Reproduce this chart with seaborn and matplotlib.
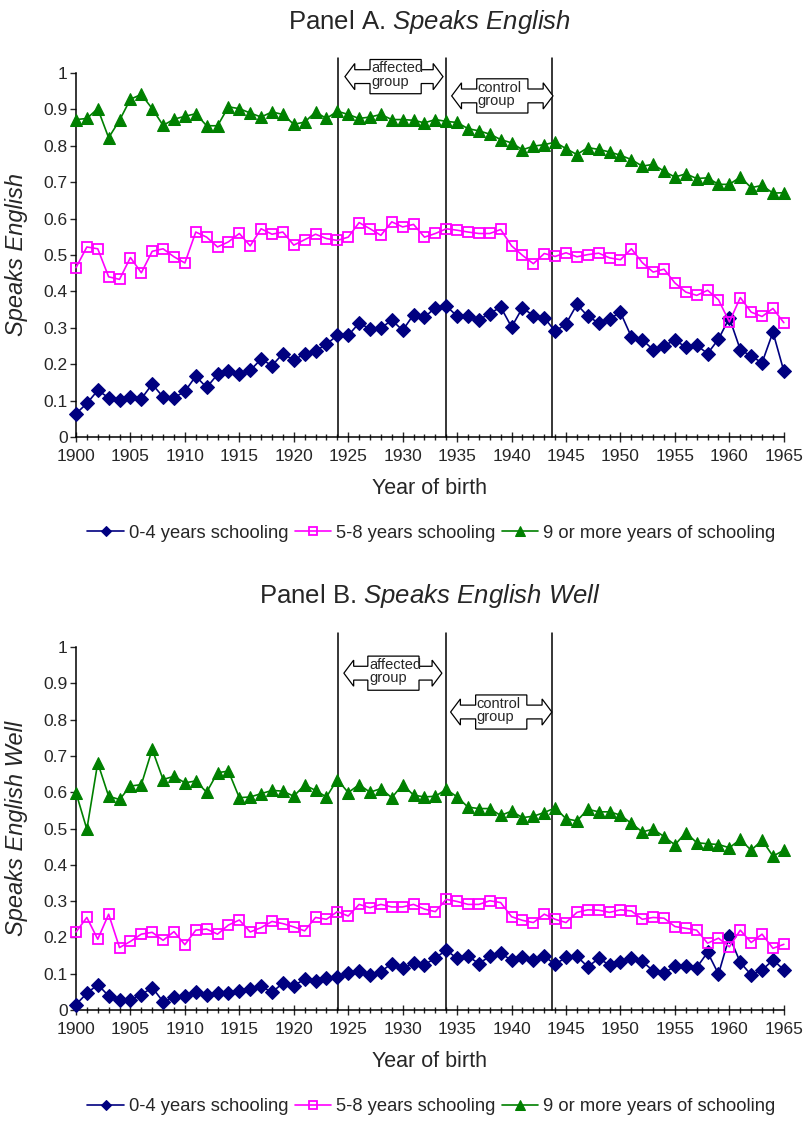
import numpy as np
import pandas as pd
import matplotlib
matplotlib.use("Agg")
import matplotlib.pyplot as plt
from matplotlib.patches import Polygon
from matplotlib.ticker import MultipleLocator, FuncFormatter
import seaborn as sns

years = list(range(1900, 1966))
series_names = ["0-4 years schooling", "5-8 years schooling", "9 or more years of schooling"]

# Panel A: speaks English
a_0_4 = [0.064, 0.092, 0.128, 0.108, 0.101, 0.110, 0.105, 0.145, 0.110, 0.108,
         0.125, 0.167, 0.136, 0.172, 0.180, 0.172, 0.183, 0.214, 0.196, 0.229,
         0.211, 0.229, 0.236, 0.255, 0.279, 0.279, 0.313, 0.297, 0.299, 0.321,
         0.293, 0.336, 0.329, 0.355, 0.360, 0.332, 0.332, 0.322, 0.339, 0.357,
         0.302, 0.355, 0.333, 0.328, 0.290, 0.311, 0.364, 0.332, 0.313, 0.325,
         0.342, 0.275, 0.267, 0.240, 0.251, 0.266, 0.247, 0.252, 0.229, 0.269,
         0.327, 0.240, 0.222, 0.204, 0.288, 0.181]
a_5_8 = [0.465, 0.522, 0.517, 0.440, 0.433, 0.493, 0.451, 0.510, 0.517, 0.495,
         0.478, 0.563, 0.549, 0.522, 0.536, 0.559, 0.525, 0.572, 0.557, 0.563,
         0.527, 0.542, 0.557, 0.545, 0.540, 0.549, 0.589, 0.572, 0.554, 0.591,
         0.577, 0.584, 0.549, 0.559, 0.572, 0.568, 0.563, 0.559, 0.559, 0.570,
         0.525, 0.499, 0.476, 0.504, 0.496, 0.506, 0.495, 0.501, 0.505, 0.492,
         0.487, 0.517, 0.479, 0.453, 0.461, 0.423, 0.398, 0.389, 0.403, 0.377,
         0.316, 0.383, 0.343, 0.331, 0.353, 0.314]
a_9_plus = [0.872, 0.875, 0.902, 0.822, 0.870, 0.928, 0.941, 0.902, 0.856, 0.873,
            0.881, 0.888, 0.855, 0.855, 0.907, 0.902, 0.890, 0.879, 0.893, 0.886,
            0.859, 0.865, 0.893, 0.875, 0.895, 0.886, 0.875, 0.879, 0.886, 0.872,
            0.872, 0.870, 0.863, 0.872, 0.867, 0.864, 0.847, 0.841, 0.832, 0.817,
            0.808, 0.789, 0.799, 0.803, 0.810, 0.792, 0.776, 0.795, 0.790, 0.783,
            0.774, 0.762, 0.744, 0.749, 0.730, 0.714, 0.723, 0.710, 0.712, 0.694,
            0.694, 0.714, 0.685, 0.691, 0.670, 0.671]

# Panel B: speaks English well
b_0_4 = [0.015, 0.046, 0.070, 0.039, 0.028, 0.028, 0.042, 0.062, 0.023, 0.035,
         0.039, 0.049, 0.041, 0.047, 0.047, 0.053, 0.058, 0.065, 0.049, 0.074,
         0.067, 0.085, 0.079, 0.088, 0.090, 0.101, 0.108, 0.097, 0.106, 0.128,
         0.115, 0.129, 0.125, 0.143, 0.165, 0.142, 0.148, 0.128, 0.148, 0.156,
         0.137, 0.145, 0.137, 0.148, 0.126, 0.145, 0.148, 0.119, 0.142, 0.124,
         0.133, 0.143, 0.134, 0.108, 0.101, 0.122, 0.122, 0.117, 0.159, 0.099,
         0.203, 0.131, 0.097, 0.110, 0.138, 0.111]
b_5_8 = [0.215, 0.255, 0.195, 0.264, 0.172, 0.189, 0.209, 0.214, 0.192, 0.216,
         0.180, 0.220, 0.223, 0.209, 0.234, 0.248, 0.215, 0.227, 0.244, 0.238,
         0.229, 0.218, 0.255, 0.250, 0.271, 0.259, 0.291, 0.282, 0.291, 0.284,
         0.284, 0.291, 0.278, 0.271, 0.305, 0.299, 0.291, 0.291, 0.301, 0.296,
         0.257, 0.247, 0.241, 0.264, 0.250, 0.241, 0.269, 0.276, 0.275, 0.269,
         0.276, 0.273, 0.250, 0.255, 0.253, 0.230, 0.225, 0.220, 0.184, 0.198,
         0.174, 0.220, 0.186, 0.209, 0.170, 0.181]
b_9_plus = [0.599, 0.498, 0.681, 0.589, 0.580, 0.617, 0.621, 0.718, 0.635, 0.644,
            0.626, 0.631, 0.600, 0.654, 0.658, 0.585, 0.587, 0.596, 0.605, 0.603,
            0.589, 0.620, 0.605, 0.587, 0.635, 0.599, 0.621, 0.600, 0.610, 0.585,
            0.621, 0.592, 0.587, 0.589, 0.608, 0.587, 0.559, 0.555, 0.555, 0.536,
            0.548, 0.530, 0.534, 0.544, 0.557, 0.527, 0.521, 0.553, 0.546, 0.546,
            0.537, 0.514, 0.491, 0.498, 0.478, 0.455, 0.489, 0.461, 0.458, 0.456,
            0.447, 0.470, 0.440, 0.468, 0.424, 0.440]

cohort_lines = [1924.1, 1934.0, 1943.7]

sns.set_style("white")
plt.rcParams['font.family'] = ['Liberation Sans', 'DejaVu Sans']
plt.rcParams['mathtext.fontset'] = 'custom'
plt.rcParams['mathtext.rm'] = 'Liberation Sans'
plt.rcParams['mathtext.it'] = 'Liberation Sans:italic'

styles = [
    dict(color="#000080", marker="D", markersize=7, markerfacecolor="#000080",
         markeredgecolor="#000080", linewidth=1.2),
    dict(color="#ff00ff", marker="s", markersize=7.5, markerfacecolor="none",
         markeredgecolor="#ff00ff", markeredgewidth=1.3, linewidth=1.2),
    dict(color="#008000", marker="^", markersize=9, markerfacecolor="#008000",
         markeredgecolor="#008000", linewidth=1.2),
]


def group_callout(ax, xl, xr, x0, x1, yc, label):
    """Box with double arrow between two vertical lines."""
    hb, hs, hh, L = 0.047, 0.019, 0.036, 0.9
    pts = [(xl, yc), (xl + L, yc + hh), (xl + L, yc + hs), (x0, yc + hs),
           (x0, yc + hb), (x1, yc + hb), (x1, yc + hs), (xr - L, yc + hs),
           (xr - L, yc + hh), (xr, yc), (xr - L, yc - hh), (xr - L, yc - hs),
           (x1, yc - hs), (x1, yc - hb), (x0, yc - hb), (x0, yc - hs),
           (xl + L, yc - hs), (xl + L, yc - hh)]
    ax.add_patch(Polygon(pts, closed=True, facecolor="white", edgecolor="black",
                         linewidth=0.9, clip_on=False, zorder=4))
    ax.text(x0 + 0.1, yc + 0.004, label, ha="left", va="center", fontsize=10.5,
            linespacing=0.95, zorder=5, clip_on=False)


def draw_panel(ax, values, title, ylabel, callouts, legend_y):
    for name, vals, st in zip(series_names, values, styles):
        sns.lineplot(x=years, y=vals, ax=ax, label=name, clip_on=False, zorder=3, **st)

    for xv in cohort_lines:
        ax.axvline(xv, ymin=0, ymax=1.04, color="black", linewidth=1.1,
                   clip_on=False, zorder=2)

    for c in callouts:
        group_callout(ax, *c)

    ax.set_xlim(1900, 1965)
    ax.set_ylim(0, 1)
    ax.xaxis.set_major_locator(MultipleLocator(5))
    ax.xaxis.set_minor_locator(MultipleLocator(1))
    ax.yaxis.set_major_locator(MultipleLocator(0.1))
    ax.yaxis.set_major_formatter(FuncFormatter(lambda v, p: "%g" % round(v, 1)))
    ax.tick_params(axis="x", which="major", direction="inout", length=7, width=1,
                   labelsize=12.5, pad=5, bottom=True)
    ax.tick_params(axis="x", which="minor", direction="inout", length=4, width=1, bottom=True)
    ax.tick_params(axis="y", which="major", direction="out", length=4, width=1,
                   labelsize=12.5, pad=2, left=True)
    sns.despine(ax=ax)
    for side in ["left", "bottom"]:
        ax.spines[side].set_linewidth(1.1)
        ax.spines[side].set_color("black")

    ax.set_title(title, fontsize=18.5, pad=32)
    ax.set_xlabel("Year of birth", fontsize=15.5)
    ax.set_ylabel(ylabel, fontsize=17, style="italic")
    ax.xaxis.set_label_coords(0.5, -0.113)
    ax.yaxis.set_label_coords(-0.068, 0.5)

    ax.legend(loc="center", bbox_to_anchor=(0.533, legend_y),
              bbox_transform=ax.figure.transFigure, ncol=3, frameon=False,
              fontsize=13.2, handlelength=2.0, handletextpad=0.25,
              columnspacing=0.35, markerscale=0.8, borderaxespad=0)


fig = plt.figure(figsize=(8.09, 11.21), dpi=100)
ax_a = fig.add_axes([0.0939, 0.6102, 0.875, 0.3247])
ax_b = fig.add_axes([0.0939, 0.0990, 0.875, 0.3238])

draw_panel(ax_a, [a_0_4, a_5_8, a_9_plus],
           r"Panel A. $\mathit{Speaks\ English}$", "Speaks English",
           [(1924.7, 1933.7, 1927.0, 1931.7, 0.99, "affected\ngroup"),
            (1934.5, 1943.8, 1936.8, 1941.5, 0.937, "control\ngroup")],
           0.5245)
draw_panel(ax_b, [b_0_4, b_5_8, b_9_plus],
           r"Panel B. $\mathit{Speaks\ English\ Well}$", "Speaks English Well",
           [(1924.6, 1933.6, 1926.8, 1931.5, 0.928, "affected\ngroup"),
            (1934.4, 1943.7, 1936.7, 1941.4, 0.821, "control\ngroup")],
           0.0125)

fig.savefig("out.png", dpi=100)
